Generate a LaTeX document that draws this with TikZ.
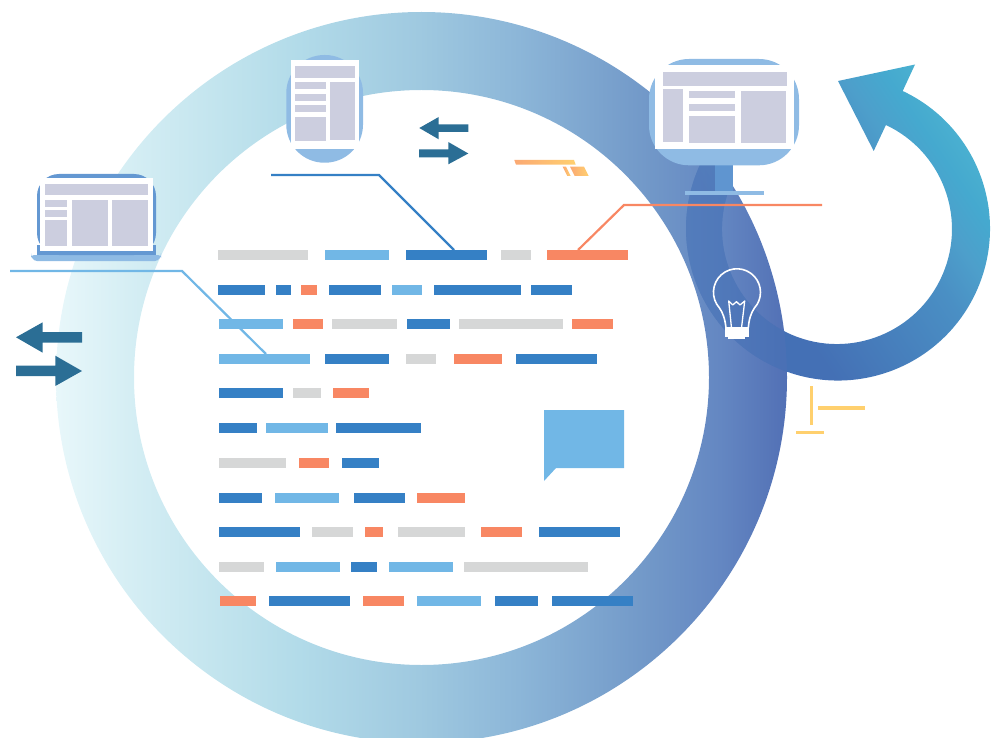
\documentclass[tikz,border=0pt]{standalone}
\usetikzlibrary{calc}
\definecolor{cg}{HTML}{D6D7D7}
\definecolor{cl}{HTML}{71B7E6}
\definecolor{cb}{HTML}{3580C5}
\definecolor{co}{HTML}{F88763}
\definecolor{pan}{HTML}{CCCEDF}
\definecolor{devb}{HTML}{8FBBE4}
\definecolor{devd}{HTML}{6498D2}
\definecolor{stand}{HTML}{5F95D0}
\definecolor{darr}{HTML}{2B6E95}
\definecolor{yel}{HTML}{FFD06E}
\definecolor{rga}{HTML}{E8F7FA}\definecolor{rgb}{HTML}{D5EEF4}\definecolor{rgc}{HTML}{C0E3ED}
\definecolor{rgd}{HTML}{B2DBE9}\definecolor{rge}{HTML}{9FC9E0}\definecolor{rgf}{HTML}{8CB6D8}
\definecolor{rgg}{HTML}{739AC9}\definecolor{rgh}{HTML}{6487C2}\definecolor{rgi}{HTML}{5270B5}
% ring gradient: bbox 56..787 maps onto 25bp..75bp
\pgfdeclarehorizontalshading{ringg}{100bp}{
color(0bp)=(rga);
color(25bp)=(rga);
color(30bp)=(rgb);
color(36.8bp)=(rgc);
color(41.6bp)=(rgd);
color(49.8bp)=(rge);
color(56.6bp)=(rgf);
color(64.9bp)=(rgg);
color(70.4bp)=(rgh);
color(75bp)=(rgi);
color(100bp)=(rgi)}
\definecolor{aa}{HTML}{4BB1D0}\definecolor{ab}{HTML}{45A9CF}\definecolor{ac}{HTML}{4D9FCB}
\definecolor{ad}{HTML}{4A8FC4}\definecolor{ae}{HTML}{4470B5}
\pgfdeclarehorizontalshading{arrg}{100bp}{
color(0bp)=(aa);color(27bp)=(aa);color(31.7bp)=(ab);color(37bp)=(ac);color(43bp)=(ad);color(64bp)=(ae);color(100bp)=(ae)}
\definecolor{oga}{HTML}{FBA973}\definecolor{ogb}{HTML}{FFD070}
\tikzset{
 barbox/.style={rectangle,inner sep=0pt,outer sep=0pt,anchor=north west,minimum height=10pt},
 panel/.style={fill=pan},
 bigarrow/.style={fill=darr},
 yelline/.style={fill=yel},
 bulbline/.style={draw=white,line width=1.6pt,line join=round},
 link/.style={line width=2.2pt,line join=miter},
 orangebit/.style={left color=oga,right color=ogb}
}
\newcommand{\barr}[5]{\pgfmathsetmacro{\bw}{#3-#2}\node[barbox,fill=#5,minimum width=\bw pt] (#1) at (#2,#4) {};}
\newcommand{\pnl}[4]{\fill[panel] (#1,#2) rectangle (#3,#4);}
\newcommand{\ringpath}{(421.5,377.5) circle[radius=365.5pt] (421.5,377.5) circle[radius=287.5pt]}
\newcommand{\arrowpath}{(902.7,91) arc[start angle=64.8,end angle=-210,radius=152pt] -- (731.1,184.1) arc[start angle=-203,end angle=64.8,radius=115pt] -- (873.7,151) -- (838,81) -- (915,64.5) -- cycle}
\begin{document}
\begin{tikzpicture}[x=1pt,y=-1pt]
\useasboundingbox (0,0) rectangle (1001,738);
% ring and curved arrow
\shade[shading=ringg,even odd rule] \ringpath;
\shade[shading=arrg,shading angle=214.5] \arrowpath;
\begin{scope}
\clip \arrowpath;
\shade[shading=ringg,even odd rule,opacity=.4] \ringpath;
\end{scope}
% connector end points
\coordinate (lfree) at (10,271);
\coordinate (lelbow) at (182,271);
\coordinate (bfree) at (271,175);
\coordinate (belbow) at (379,175);
\coordinate (ofree) at (822,205);
\coordinate (oelbow) at (624,205);
% bars
\barr{a1}{218}{308}{250}{cg}\barr{a2}{325}{389}{250}{cl}\barr{a3}{406}{487}{250}{cb}\barr{a4}{501}{531}{250}{cg}\barr{a5}{547}{628}{250}{co}
\barr{b1}{218}{265}{285}{cb}\barr{b2}{276}{291}{285}{cb}\barr{b3}{301}{317}{285}{co}\barr{b4}{329}{381}{285}{cb}\barr{b5}{392}{422}{285}{cl}\barr{b6}{434}{521}{285}{cb}\barr{b7}{531}{572}{285}{cb}
\barr{c1}{219}{283}{319}{cl}\barr{c2}{293}{323}{319}{co}\barr{c3}{332}{397}{319}{cg}\barr{c4}{407}{450}{319}{cb}\barr{c5}{459}{563}{319}{cg}\barr{c6}{572}{613}{319}{co}
\barr{d1}{219}{310}{354}{cl}\barr{d2}{325}{389}{354}{cb}\barr{d3}{406}{436}{354}{cg}\barr{d4}{454}{502}{354}{co}\barr{d5}{516}{597}{354}{cb}
\barr{e1}{219}{283}{388}{cb}\barr{e2}{293}{321}{388}{cg}\barr{e3}{333}{369}{388}{co}
\barr{f1}{219}{257}{423}{cb}\barr{f2}{266}{328}{423}{cl}\barr{f3}{336}{421}{423}{cb}
\barr{g1}{219}{286}{458}{cg}\barr{g2}{299}{329}{458}{co}\barr{g3}{342}{379}{458}{cb}
\barr{h1}{219}{262}{493}{cb}\barr{h2}{275}{339}{493}{cl}\barr{h3}{354}{405}{493}{cb}\barr{h4}{417}{465}{493}{co}
\barr{i1}{219}{300}{527}{cb}\barr{i2}{312}{353}{527}{cg}\barr{i3}{365}{383}{527}{co}\barr{i4}{398}{465}{527}{cg}\barr{i5}{481}{522}{527}{co}\barr{i6}{539}{620}{527}{cb}
\barr{j1}{219}{264}{562}{cg}\barr{j2}{276}{340}{562}{cl}\barr{j3}{351}{377}{562}{cb}\barr{j4}{389}{453}{562}{cl}\barr{j5}{464}{588}{562}{cg}
\barr{k1}{220}{256}{596}{co}\barr{k2}{269}{350}{596}{cb}\barr{k3}{363}{404}{596}{co}\barr{k4}{417}{481}{596}{cl}\barr{k5}{495}{538}{596}{cb}\barr{k6}{552}{633}{596}{cb}
% connectors
\draw[link,draw=cl] (lfree) -- (lelbow) -- ($(d1.north west)+(47,0)$);
\draw[link,draw=cb] (bfree) -- (belbow) -- ($(a3.north west)+(48,0)$);
\draw[link,draw=co] (ofree) -- (oelbow) -- ($(a5.north west)+(31,0)$);
% speech bubble
\fill[cl] (544,410) -- (624,410) -- (624,468) -- (556,468) -- (544,481) -- cycle;
% laptop
\fill[devb,rounded corners=3pt] (31,255) -- (161,255) -- (161,256) -- (158,261) -- (34,261) -- (31,256) -- cycle;
\fill[devd,rounded corners=22pt] (37,255) -- (37,174) -- (156,174) -- (156,255) -- cycle;
\fill[devd] (37,245) rectangle (156,255);
\fill[white] (40,178) rectangle (153,251);
\pnl{45}{184}{148}{195}\pnl{45}{200}{67}{207}\pnl{45}{210}{67}{217}\pnl{45}{220}{67}{246}\pnl{72}{200}{108}{246}\pnl{112}{200}{148}{246}
% tablet
\fill[devb,rounded corners=38pt] (286.3,55) rectangle (363,162.7);
\fill[white] (291,60) rectangle (359,149);
\pnl{295}{66}{355}{78}\pnl{295}{82}{326}{89}\pnl{295}{94}{326}{101}\pnl{295}{105}{326}{112}\pnl{295}{117}{326}{141}\pnl{330}{82}{355}{140}
% monitor
\fill[stand] (715,160) rectangle (733,191);
\fill[devb] (685,191) rectangle (764,195);
\fill[devb,rounded corners=40pt] (649,59) rectangle (799,165.3);
\fill[white] (655,65) rectangle (794,149);
\pnl{663}{72}{787}{86}\pnl{663}{89}{683}{142}\pnl{689}{91}{735}{98}\pnl{689}{104}{735}{111}\pnl{689}{116}{735}{143}\pnl{741}{91}{786}{143}
% double arrows
\fill[bigarrow] (16,337.3) -- (42.7,322.3) -- (42.7,332) -- (82,332) -- (82,342.7) -- (42.7,342.7) -- (42.7,352.7) -- cycle;
\fill[bigarrow] (82,371) -- (55.3,355.7) -- (55.3,365.7) -- (16,365.7) -- (16,376) -- (55.3,376) -- (55.3,386) -- cycle;
\fill[bigarrow] (419.3,128) -- (438.7,117) -- (438.7,124.3) -- (468.3,124.3) -- (468.3,132) -- (438.7,132) -- (438.7,139.3) -- cycle;
\fill[bigarrow] (468.3,153.5) -- (448.3,142) -- (448.3,149.3) -- (419,149.3) -- (419,157.3) -- (448.3,157.3) -- (448.3,164.3) -- cycle;
% small orange bits
\shade[orangebit] (514.3,160) -- (574,160) -- (575.7,164.7) -- (516,164.7) -- cycle;
\shade[orangebit] (562.7,166.7) -- (566,166.7) -- (570.7,176) -- (567.3,176) -- cycle;
\shade[orangebit] (570,166.7) -- (584,166.7) -- (588.7,176) -- (574.7,176) -- cycle;
% yellow lines
\fill[yelline] (810,386) rectangle (813,425);
\fill[yelline] (818,406) rectangle (865,410);
\fill[yelline] (796,431) rectangle (824,434);
% bulb
\draw[bulbline] (726,328) .. controls (725,319) and (723,313) .. (719.5,308) arc[start angle=222,end angle=-42,radius=23.5pt] .. controls (751,313) and (749,319) .. (748.3,328);
\draw[bulbline,line width=1.3pt] (731.5,328) -- (728.7,301) -- (732.7,305) -- (736.5,301.7) -- (740,305) -- (744.7,301) -- (741.5,328);
\fill[white] (725.3,327) rectangle (748.7,337);
\fill[white] (728.3,337) rectangle (745,339.3);
\end{tikzpicture}
\end{document}
